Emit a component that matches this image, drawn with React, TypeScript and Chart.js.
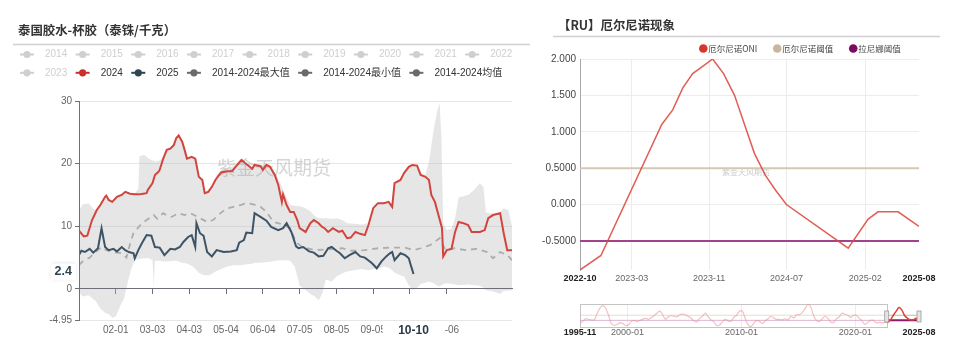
import React, { useEffect, useRef } from 'react';
import { Chart, registerables } from 'chart.js';

Chart.register(...registerables);

const LATIN = '"Liberation Sans", "Noto Sans CJK SC", sans-serif';
const CJK = '"Noto Sans CJK SC", "Liberation Sans", sans-serif';

/* ================= left panel: 泰国胶水-杯胶 ================= */
const LEFT_TITLE = '泰国胶水-杯胶（泰铢/千克）';
const WATERMARK = '紫金天风期货';
const HIDDEN_YEARS = ['2014', '2015', '2016', '2017', '2018', '2019', '2020', '2021', '2022', '2023'];
const LABEL_2024 = '2024';
const LABEL_2025 = '2025';
const LABEL_MAX = '2014-2024最大值';
const LABEL_MIN = '2014-2024最小值';
const LABEL_MEAN = '2014-2024均值';
const DAY_TICKS = [31, 62, 93, 124, 155, 186, 217, 248, 279, 310];
const DAY_TICK_LABELS = ['02-01', '03-03', '04-03', '05-04', '06-04', '07-05', '08-05', '09-05', '10-06', '11-06'];
const LAST_DAY_LABEL = '10-10';
const VALUE_TICKS = [30, 20, 10, 0, -4.95];

// [day of year (0 = 01-01), 泰铢/千克]
const Y2024: [number, number][] = [
  [0, 9.3], [4, 8.4], [7, 8.5], [11, 11.0], [15, 12.6], [18, 13.4], [22, 14.7], [23, 14.9], [25, 14.2],
  [28, 13.9], [32, 14.7], [36, 15.0], [39, 15.5], [43, 15.2], [47, 15.1], [51, 15.1], [54, 15.2], [57, 15.3],
  [58, 15.8], [62, 16.9], [64, 18.2], [67, 18.7], [68, 19.0], [71, 20.8], [74, 22.2], [77, 22.4], [80, 23.0],
  [82, 24.1], [84, 24.5], [87, 23.5], [89, 22.2], [91, 20.8], [95, 21.1], [98, 20.8], [101, 17.9], [104, 17.4],
  [106, 15.3], [109, 15.5], [112, 16.3], [115, 17.4], [118, 18.2], [120, 18.6], [125, 18.8], [129, 18.8],
  [132, 19.5], [137, 20.6], [140, 20.1], [146, 19.2], [148, 19.8], [153, 19.6], [155, 19.0], [158, 19.8],
  [161, 19.5], [165, 18.2], [168, 16.6], [171, 13.9], [172, 15.1], [175, 13.4], [178, 12.3], [181, 12.3],
  [184, 11.0], [186, 9.7], [191, 9.1], [195, 10.5], [198, 11.0], [202, 10.5], [205, 9.9], [207, 9.7],
  [210, 9.1], [214, 9.7], [219, 9.1], [222, 9.3], [226, 8.1], [229, 8.2], [233, 9.1], [237, 8.8], [241, 8.6],
  [244, 10.2], [248, 12.9], [252, 13.7], [257, 13.7], [261, 13.9], [264, 13.1], [266, 16.9], [271, 17.4],
  [274, 18.5], [278, 19.5], [281, 19.8], [285, 19.7], [288, 18.2], [292, 17.9], [295, 17.4], [297, 15.0],
  [300, 13.9], [303, 11.8], [306, 9.7], [307, 5.2], [310, 6.2], [314, 6.4], [317, 9.1], [320, 10.7],
  [324, 10.5], [328, 10.2], [331, 9.1], [338, 9.1], [342, 9.4], [345, 11.3], [349, 11.8], [355, 12.1],
  [358, 8.9], [361, 6.2], [365, 6.2],
];

const Y2025: [number, number][] = [
  [0, 5.4], [2, 6.1], [5, 5.9], [9, 6.4], [12, 5.8], [16, 6.5], [19, 9.7], [22, 6.7], [25, 6.2], [29, 6.4],
  [32, 6.0], [36, 6.7], [39, 6.2], [42, 5.9], [46, 5.7], [47, 4.9], [50, 6.2], [53, 7.3], [57, 8.6], [61, 8.5],
  [64, 6.7], [68, 6.6], [72, 5.4], [77, 6.4], [81, 6.3], [85, 6.7], [88, 7.5], [92, 8.3], [95, 8.6], [98, 6.7],
  [99, 10.5], [102, 8.9], [105, 8.5], [108, 5.9], [112, 5.2], [116, 6.2], [122, 5.9], [128, 6.0], [133, 6.2],
  [135, 7.4], [139, 7.8], [141, 9.0], [146, 8.9], [148, 12.1], [153, 11.5], [158, 10.9], [162, 9.9],
  [168, 9.4], [172, 9.7], [175, 10.5], [179, 9.1], [183, 6.8], [185, 6.5], [189, 6.7], [194, 6.0], [198, 5.8],
  [202, 5.2], [206, 5.3], [210, 6.5], [213, 6.7], [217, 6.1], [220, 5.7], [224, 4.9], [228, 5.4], [233, 5.9],
  [237, 5.2], [241, 5.0], [247, 4.1], [251, 3.3], [255, 4.4], [259, 5.2], [262, 5.7], [264, 5.9], [266, 4.6],
  [271, 5.7], [275, 5.4], [278, 4.9], [280, 3.6], [282, 2.4],
];

const MEAN: [number, number][] = [
  [0, 3.8], [4, 4.6], [9, 5.0], [14, 5.9], [19, 6.7], [23, 6.2], [29, 5.9], [36, 5.7], [40, 5.0], [42, 6.5],
  [46, 9.0], [49, 9.6], [53, 10.5], [57, 11.0], [63, 11.8], [66, 11.2], [71, 12.1], [75, 11.6], [78, 11.5],
  [84, 12.1], [89, 11.8], [94, 12.1], [100, 11.5], [108, 10.7], [113, 11.0], [118, 11.9], [124, 12.8],
  [130, 13.1], [136, 13.4], [141, 13.7], [147, 13.5], [153, 13.1], [158, 12.3], [164, 10.7], [170, 10.4],
  [178, 9.7], [183, 7.5], [188, 6.7], [199, 6.2], [210, 6.3], [222, 6.5], [230, 6.1], [241, 6.2], [252, 6.5],
  [262, 6.6], [275, 6.6], [282, 6.2], [288, 6.5], [296, 7.0], [304, 8.1], [309, 6.2], [316, 6.5], [326, 6.2],
  [335, 6.4], [344, 5.9], [349, 4.9], [355, 5.9], [361, 5.4], [365, 4.6],
];

// [day, 2014-2024 max, 2014-2024 min]
const RANGE: [number, number, number][] = [
  [0, 12.5, -0.5], [3, 13.5, -1.2], [8, 13.7, -1.0], [12, 12.8, -1.6], [14, 12.6, -1.9], [18, 13.4, -3.1],
  [22, 14.8, -3.8], [23, 15.0, -3.9], [25, 14.3, -4.0], [28, 14.0, -4.6], [31, 14.8, -4.4], [35, 15.1, -2.6],
  [38, 15.5, -1.5], [41, 15.3, 1.0], [44, 15.2, 3.2], [47, 15.2, 4.6], [50, 16.0, 4.8], [51, 21.2, 4.8],
  [55, 21.4, 4.9], [59, 20.8, 4.9], [62, 20.5, 4.6], [63, 20.5, 0.3], [64, 20.3, 4.5], [68, 20.5, 4.5],
  [71, 21.0, 4.4], [74, 22.3, 4.4], [80, 23.1, 4.5], [82, 24.2, 4.5], [84, 24.6, 4.4], [87, 23.6, 4.2],
  [90, 22.2, 4.1], [92, 21.0, 4.0], [96, 21.1, 3.6], [99, 20.8, 3.0], [101, 18.2, 2.6], [104, 17.4, 2.3],
  [106, 15.4, 2.2], [110, 16.0, 2.2], [115, 17.5, 2.8], [120, 19.0, 3.2], [125, 19.2, 3.6], [130, 19.6, 3.8],
  [136, 20.7, 3.8], [140, 20.1, 3.9], [145, 19.3, 4.0], [148, 20.0, 4.2], [153, 19.9, 4.2], [158, 19.8, 4.3],
  [162, 19.5, 4.4], [166, 18.3, 4.5], [170, 16.8, 4.6], [174, 15.0, 4.6], [178, 13.4, 4.5], [182, 13.3, 3.5],
  [186, 13.2, 0.5], [190, 13.0, 0.0], [195, 12.4, -0.8], [199, 11.6, -1.2], [202, 11.3, -1.8], [205, 11.3, -0.8],
  [208, 11.3, 1.5], [213, 11.2, 1.2], [217, 11.3, 2.0], [222, 11.0, 2.5], [226, 10.5, 2.8], [232, 10.4, 3.0],
  [238, 10.3, 3.2], [244, 10.5, 3.0], [248, 12.9, 3.2], [252, 13.7, 3.2], [257, 13.8, 3.6], [261, 13.9, 3.4],
  [264, 13.3, 3.0], [266, 17.0, 2.6], [271, 17.5, 2.2], [274, 18.5, 2.0], [278, 19.5, 0.6], [281, 19.9, -0.2],
  [285, 19.8, 0.2], [288, 18.4, 0.8], [292, 18.2, 1.0], [295, 20.3, 1.2], [299, 25.4, 0.9], [302, 28.5, 0.5],
  [304, 29.7, 0.4], [305.5, 24.0, 0.6], [307, 10.5, 0.8], [310, 9.4, 0.9], [314, 9.6, 0.8], [317, 11.3, 0.7],
  [320, 14.6, 0.6], [328, 15.0, 0.7], [333, 15.8, 0.6], [338, 16.9, 0.5], [341, 16.2, 0.2], [343, 12.2, -0.2],
  [349, 12.0, -0.4], [355, 12.3, -0.8], [358, 12.9, -0.3], [362, 12.6, -0.3], [365, 10.0, -0.2],
];

/* ================= right panel: 厄尔尼诺现象 ================= */
const RIGHT_TITLE = '【RU】厄尔尼诺现象';
const LABEL_ONI = '厄尔尼诺ONI';
const LABEL_EL_NINO = '厄尔尼诺阈值';
const LABEL_LA_NINA = '拉尼娜阈值';
const EL_NINO_THRESHOLD = 0.5;
const LA_NINA_THRESHOLD = -0.5;
// [months after 2022-10, ONI]
const ONI: [number, number][] = [
  [0, -0.9], [2.1, -0.7], [8.2, 1.1], [9.3, 1.3], [10.3, 1.6], [11.3, 1.8], [12.3, 1.9], [13.3, 2.0],
  [14.4, 1.8], [15.5, 1.5], [16.5, 1.1], [17.5, 0.7], [18.6, 0.4], [19.6, 0.2], [20.7, 0.0], [26.9, -0.6],
  [28.9, -0.2], [29.9, -0.1], [31.9, -0.1], [34, -0.3],
];
const ONI_X_TICKS = [0, 5.2, 12.95, 20.7, 28.6, 34];
const ONI_X_LABELS = ['2022-10', '2023-03', '2023-11', '2024-07', '2025-02', '2025-08'];
const ONI_Y_TICKS = [2, 1.5, 1, 0.5, 0, -0.5];
const ONI_Y_LABELS = ['2.000', '1.500', '1.000', '0.5000', '0.000', '-0.5000'];

// full ONI history for the zoom slider, one value every 3 months from 1995-11
const HISTORY_START = '1995-11';
const HISTORY_STEP = 3;
const ONI_HISTORY = [
  -1.0,
  -0.7, -0.2, -0.3, -0.4, -0.4, 0.8, 1.9, 2.4, 1.9, 0.5, -1.1, -1.5, -1.3, -1.0, -1.1, -1.5,
  -1.4, -0.7, -0.5, -0.7, -0.5, -0.3, -0.1, -0.3, 0.0, 0.4, 0.9, 1.3, 0.6, -0.3, 0.2, 0.4,
  0.3, 0.2, 0.6, 0.7, 0.6, 0.3, -0.1, -0.6, -0.8, -0.1, 0.3, 0.9, 0.2, -0.4, -0.8, -1.5,
  -1.4, -0.8, -0.3, -0.6, -0.7, 0.1, 0.5, 1.3, 1.3, -0.1, -1.4, -1.7, -1.1, -0.5, -0.7, -1.1,
  -0.6, -0.2, 0.3, 0.0, -0.3, -0.3, -0.4, -0.2, -0.4, 0.3, 0.0, 0.6, 0.6, 1.0, 1.8, 2.6,
  2.1, 0.4, -0.5, -0.7, -0.2, 0.3, -0.1, -0.8, -0.9, -0.2, 0.2, 0.9, 0.7, 0.5, 0.1, 0.5,
  0.5, -0.1, -0.6, -1.3, -0.9, -0.5, -0.5, -1.0, -0.9, -1.0, -0.9, -0.9, -0.4, 0.5, 1.3, 2.0,
  1.5, 0.4, -0.1, -0.4, -0.4, -0.1, -0.3,
];
const SLIDER_LABELS = ['1995-11', '2000-01', '2010-01', '2020-01', '2025-08'];
const SLIDER_WINDOW = ['2022-10', '2025-08'];

/* ================= helpers ================= */
const monthsBetween = (a: string, b: string) => {
  const [ya, ma] = a.split('-').map(Number);
  const [yb, mb] = b.split('-').map(Number);
  return (yb - ya) * 12 + (mb - ma);
};
const xy = (pts: [number, number][]) => pts.map(([x, y]) => ({ x, y }));

const C2024 = '#d2453f';
const C2024_LEGEND = '#c8302c';
const C2025 = '#3e5466';
const C2025_LEGEND = '#2f4554';
const CGREY = '#6a6a6a';

/* ---------- left chart plugins ---------- */
const leftDecor = {
  id: 'leftDecor',
  afterDatasetDraw(chart: any, args: any) {
    if (chart.data.datasets[args.index].label !== LABEL_MAX) return;
    const { ctx } = chart;
    ctx.save();
    ctx.font = `19px ${CJK}`;
    ctx.fillStyle = 'rgba(160,160,160,0.45)';
    ctx.textAlign = 'center';
    ctx.textBaseline = 'middle';
    ctx.fillText(WATERMARK, 274, 168);
    ctx.restore();
  },
  afterDraw(chart: any) {
    const { ctx, chartArea } = chart;
    ctx.save();
    ctx.textBaseline = 'middle';
    ctx.textAlign = 'left';
    ctx.font = `bold 12.4px ${CJK}`;
    ctx.fillStyle = '#333';
    ctx.fillText(LEFT_TITLE, 18, 30);
    ctx.strokeStyle = '#d0d0d0';
    ctx.lineWidth = 1.5;
    ctx.beginPath();
    ctx.moveTo(13, 44.5);
    ctx.lineTo(530, 44.5);
    ctx.stroke();

    // legend
    ctx.font = `10px ${LATIN}`;
    let x = 20;
    let y = 54.5;
    chart.data.datasets.forEach((ds: any) => {
      const w = ctx.measureText(ds.label).width;
      if (x + 25 + w > 528) {
        x = 20;
        y += 18.3;
      }
      const col = ds.hidden ? '#cfcfcf' : ds.legendColor;
      ctx.strokeStyle = col;
      ctx.lineWidth = 2;
      ctx.beginPath();
      ctx.moveTo(x, y);
      ctx.lineTo(x + 14, y);
      ctx.stroke();
      ctx.fillStyle = col;
      ctx.beginPath();
      ctx.arc(x + 7, y, 3.6, 0, Math.PI * 2);
      ctx.fill();
      ctx.fillStyle = ds.hidden ? '#cfcfcf' : '#333';
      ctx.fillText(ds.label, x + 25, y);
      x += 25 + w + 8.4;
    });

    // pointer labels for the latest 2025 value
    const last = Y2025[Y2025.length - 1];
    const px = chart.scales.x.getPixelForValue(last[0]);
    const py = chart.scales.y.getPixelForValue(last[1]);
    ctx.font = `bold 12.5px ${LATIN}`;
    const vText = String(last[1]);
    const vw = ctx.measureText(vText).width + 8;
    ctx.shadowColor = 'rgba(0,0,0,0.18)';
    ctx.shadowBlur = 3;
    ctx.fillStyle = '#fff';
    ctx.fillRect(chartArea.left - 3 - vw, py - 10.5, vw, 17);
    ctx.shadowBlur = 0;
    ctx.shadowColor = 'transparent';
    ctx.fillStyle = C2025_LEGEND;
    ctx.textAlign = 'center';
    ctx.fillText(vText, chartArea.left - 3 - vw / 2, py - 2);

    ctx.font = `bold 12px ${LATIN}`;
    const dw = ctx.measureText(LAST_DAY_LABEL).width + 31;
    ctx.fillStyle = '#fff';
    ctx.fillRect(px - dw / 2, chartArea.bottom + 2, dw, 18);
    ctx.fillStyle = '#2b3a4a';
    ctx.fillText(LAST_DAY_LABEL, px, chartArea.bottom + 10.5);
    ctx.restore();
  },
};

/* ---------- right chart plugins ---------- */
const rightDecor = {
  id: 'rightDecor',
  beforeDatasetsDraw(chart: any) {
    const { ctx } = chart;
    ctx.save();
    ctx.font = `8px ${CJK}`;
    ctx.fillStyle = 'rgba(140,140,140,0.45)';
    ctx.textAlign = 'center';
    ctx.textBaseline = 'middle';
    ctx.fillText(WATERMARK, 206, 172);
    ctx.restore();
  },
  afterDraw(chart: any) {
    const { ctx } = chart;
    ctx.save();
    ctx.textBaseline = 'middle';
    ctx.textAlign = 'left';
    ctx.font = `bold 12.4px ${CJK}`;
    ctx.fillStyle = '#333';
    ctx.fillText(RIGHT_TITLE, 18, 25.5);
    ctx.strokeStyle = '#d0d0d0';
    ctx.lineWidth = 1.5;
    ctx.beginPath();
    ctx.moveTo(13, 36.5);
    ctx.lineTo(400, 36.5);
    ctx.stroke();

    ctx.font = `8.5px ${CJK}`;
    let cx = 163.3;
    const cy = 48.5;
    chart.data.datasets.forEach((ds: any) => {
      ctx.fillStyle = ds.legendColor;
      ctx.beginPath();
      ctx.arc(cx, cy, 4.3, 0, Math.PI * 2);
      ctx.fill();
      ctx.fillStyle = '#444';
      ctx.fillText(ds.label, cx + 5, cy);
      cx += 5 + ctx.measureText(ds.label).width + 20;
    });
    ctx.restore();
  },
};

/* ---------- slider plugin ---------- */
const WIN_START = monthsBetween(HISTORY_START, SLIDER_WINDOW[0]);
const WIN_END = monthsBetween(HISTORY_START, SLIDER_WINDOW[1]);
const sliderDecor = {
  id: 'sliderDecor',
  beforeDatasetsDraw(chart: any) {
    const { ctx, chartArea: a, scales } = chart;
    const x0 = Math.round(scales.x.getPixelForValue(0)) + 0.5;
    const x1 = Math.round(scales.x.getPixelForValue(WIN_START)) + 0.5;
    ctx.save();
    ctx.strokeStyle = '#c4c4c4';
    ctx.lineWidth = 1;
    ctx.strokeRect(x0, Math.round(a.top) + 0.5, x1 - x0, Math.round(a.bottom - a.top));
    ctx.restore();
  },
  afterDatasetsDraw(chart: any) {
    const { ctx, chartArea: a, scales } = chart;
    const mid = (a.top + a.bottom) / 2 + 1;
    ctx.save();
    [WIN_START, WIN_END].forEach((m) => {
      const px = scales.x.getPixelForValue(m);
      ctx.fillStyle = '#e4e4e4';
      ctx.strokeStyle = '#9a9a9a';
      ctx.lineWidth = 0.8;
      ctx.fillRect(px - 2, mid - 5.5, 4, 11);
      ctx.strokeRect(px - 2, mid - 5.5, 4, 11);
    });
    ctx.restore();
  },
};

/* ================= chart configs ================= */
function leftConfig(): any {
  const datasets: any[] = [
    ...HIDDEN_YEARS.map((y) => ({ label: y, data: [], hidden: true, pointRadius: 0, legendColor: '#ccc' })),
    { label: LABEL_2024, data: xy(Y2024), borderColor: C2024, borderWidth: 2, pointRadius: 0, order: 1, legendColor: C2024_LEGEND },
    { label: LABEL_2025, data: xy(Y2025), borderColor: C2025, borderWidth: 2, pointRadius: 0, order: 0, legendColor: C2025_LEGEND },
    {
      label: LABEL_MAX, data: RANGE.map(([d, mx]) => ({ x: d, y: mx })), borderWidth: 0, borderColor: 'transparent',
      backgroundColor: 'rgba(185,185,185,0.36)', fill: '+1', pointRadius: 0, order: 3, legendColor: CGREY,
    },
    {
      label: LABEL_MIN, data: RANGE.map(([d, , mn]) => ({ x: d, y: mn })), borderWidth: 0, borderColor: 'transparent',
      fill: false, pointRadius: 0, order: 4, legendColor: CGREY,
    },
    {
      label: LABEL_MEAN, data: xy(MEAN), borderColor: '#adadad', borderWidth: 1.8, borderDash: [6, 5], pointRadius: 0,
      order: 2, legendColor: CGREY,
    },
  ];
  const dayTicks = (s: any) => { s.ticks = DAY_TICKS.map((v) => ({ value: v })); };
  return {
    type: 'line',
    data: { datasets },
    options: {
      animation: false, responsive: false, maintainAspectRatio: false, devicePixelRatio: 1,
      layout: { padding: { left: 0, top: 101, right: 23, bottom: 0 } },
      plugins: { legend: { display: false }, tooltip: { enabled: false } },
      elements: { line: { tension: 0 } },
      scales: {
        x: {
          type: 'linear', min: 0, max: 365,
          afterBuildTicks: dayTicks,
          afterFit: (s: any) => { s.height = 34; },
          grid: { display: false, drawTicks: false, tickLength: 0 }, border: { display: false },
          ticks: {
            autoSkip: false, maxRotation: 0, padding: 4, color: '#666', font: { family: LATIN, size: 10 },
            callback: (_v: any, i: number) => DAY_TICK_LABELS[i],
          },
        },
        x2: {
          type: 'linear', axis: 'x', position: { y: 0 }, min: 0, max: 365, z: 1,
          afterBuildTicks: dayTicks,
          ticks: { display: false },
          grid: { drawOnChartArea: false, drawTicks: true, tickLength: 5, tickColor: '#6e7079' },
          border: { display: true, color: '#6e7079', width: 1, z: 1 },
        },
        y: {
          type: 'linear', min: -4.95, max: 30,
          afterBuildTicks: (s: any) => { s.ticks = VALUE_TICKS.map((v) => ({ value: v })); },
          afterFit: (s: any) => { s.width = 79; },
          grid: {
            color: (c: any) => (c.tick && c.tick.value === 0 ? 'rgba(0,0,0,0)' : '#e6e6e6'),
            drawTicks: true, tickLength: 4, tickColor: '#6e7079',
          },
          border: { display: true, color: '#6e7079', width: 1, z: 1 },
          ticks: { padding: 3, color: '#666', font: { family: LATIN, size: 10 }, callback: (v: any) => String(v) },
        },
      },
    },
    plugins: [leftDecor],
  };
}

function rightConfig(): any {
  const datasets: any[] = [
    { label: LABEL_ONI, data: xy(ONI), borderColor: 'rgba(220,72,62,0.88)', borderWidth: 1.5, pointRadius: 0, order: 0, legendColor: '#d7372b' },
    {
      label: LABEL_EL_NINO, data: [{ x: 0, y: EL_NINO_THRESHOLD }, { x: ONI_X_TICKS[ONI_X_TICKS.length - 1], y: EL_NINO_THRESHOLD }],
      borderColor: '#d5c8b3', borderWidth: 2, pointRadius: 0, order: 1, legendColor: '#c9b69d',
    },
    {
      label: LABEL_LA_NINA, data: [{ x: 0, y: LA_NINA_THRESHOLD }, { x: ONI_X_TICKS[ONI_X_TICKS.length - 1], y: LA_NINA_THRESHOLD }],
      borderColor: '#a2428f', borderWidth: 2, pointRadius: 0, order: 1, legendColor: '#7d0a5d',
    },
  ];
  const lastIdx = ONI_X_TICKS.length - 1;
  return {
    type: 'line',
    data: { datasets },
    options: {
      animation: false, responsive: false, maintainAspectRatio: false, devicePixelRatio: 1,
      layout: { padding: { left: 0, top: 59, right: 41, bottom: 0 } },
      plugins: { legend: { display: false }, tooltip: { enabled: false } },
      scales: {
        x: {
          type: 'linear', min: 0, max: ONI_X_TICKS[lastIdx],
          afterBuildTicks: (s: any) => { s.ticks = ONI_X_TICKS.map((v) => ({ value: v })); },
          afterFit: (s: any) => { s.height = 22; },
          grid: {
            drawTicks: false,
            color: (c: any) => (c.index === 0 || c.index === lastIdx ? 'rgba(0,0,0,0)' : '#ececec'),
          },
          border: { display: false },
          ticks: {
            autoSkip: false, maxRotation: 0, padding: 3,
            color: (c: any) => (c.index === 0 || c.index === lastIdx ? '#222' : '#666'),
            font: (c: any) => ({ family: LATIN, size: 9, weight: c.index === 0 || c.index === lastIdx ? 'bold' : 'normal' }),
            callback: (_v: any, i: number) => ONI_X_LABELS[i],
          },
        },
        y: {
          type: 'linear', min: -0.9, max: 2,
          afterBuildTicks: (s: any) => { s.ticks = ONI_Y_TICKS.map((v) => ({ value: v })); },
          afterFit: (s: any) => { s.width = 40; },
          grid: { drawTicks: false, color: '#ececec' },
          border: { display: true, color: '#a8a8a8', width: 1 },
          ticks: {
            padding: 4, color: '#444', font: { family: LATIN, size: 10 },
            callback: (_v: any, i: number) => ONI_Y_LABELS[i],
          },
        },
      },
    },
    plugins: [rightDecor],
  };
}

function sliderConfig(): any {
  const hist = ONI_HISTORY.map((v, i) => ({ x: i * HISTORY_STEP, y: v }));
  const tickVals = SLIDER_LABELS.map((l) => monthsBetween(HISTORY_START, l));
  const lastIdx = tickVals.length - 1;
  const inWin = (c: any) => c.p0.parsed.x >= WIN_START;
  const flat = (v: number) => [{ x: 0, y: v }, { x: WIN_START, y: v }, { x: WIN_END, y: v }];
  return {
    type: 'line',
    data: {
      datasets: [
        {
          label: LABEL_ONI, data: hist, borderWidth: 1.2, pointRadius: 0, tension: 0.35, order: 0,
          borderColor: 'rgba(232,140,140,0.55)',
          segment: { borderColor: (c: any) => (inWin(c) ? '#dd3f36' : 'rgba(232,140,140,0.55)'), borderWidth: (c: any) => (inWin(c) ? 1.5 : 1.2) },
        },
        {
          label: LABEL_EL_NINO, data: flat(EL_NINO_THRESHOLD), borderWidth: 1, pointRadius: 0, order: 1,
          borderColor: 'rgba(200,180,154,0.45)',
          segment: { borderColor: (c: any) => (inWin(c) ? '#c8b59c' : 'rgba(200,180,154,0.45)') },
        },
        {
          label: LABEL_LA_NINA, data: flat(LA_NINA_THRESHOLD), borderWidth: 1, pointRadius: 0, order: 1,
          borderColor: 'rgba(170,70,150,0.4)',
          segment: { borderColor: (c: any) => (inWin(c) ? '#8a1a70' : 'rgba(170,70,150,0.4)'), borderWidth: (c: any) => (inWin(c) ? 2 : 1) },
        },
      ],
    },
    options: {
      animation: false, responsive: false, maintainAspectRatio: false, devicePixelRatio: 1,
      layout: { padding: { left: 40, top: 12, right: 41, bottom: 0 } },
      plugins: { legend: { display: false }, tooltip: { enabled: false } },
      scales: {
        x: {
          type: 'linear', min: 0, max: WIN_END,
          afterBuildTicks: (s: any) => { s.ticks = tickVals.map((v) => ({ value: v })); },
          afterFit: (s: any) => { s.height = 27; },
          grid: {
            drawTicks: false,
            color: (c: any) => (c.index === 0 || c.index === lastIdx ? 'rgba(0,0,0,0)' : 'rgba(0,0,0,0.07)'),
          },
          border: { display: false },
          ticks: {
            autoSkip: false, maxRotation: 0, padding: 0,
            color: (c: any) => (c.index === 0 || c.index === lastIdx ? '#222' : '#666'),
            font: (c: any) => ({ family: LATIN, size: 9, weight: c.index === 0 || c.index === lastIdx ? 'bold' : 'normal' }),
            callback: (_v: any, i: number) => SLIDER_LABELS[i],
          },
        },
        y: { display: false, min: -1.8, max: 2.7 },
      },
    },
    plugins: [sliderDecor],
  };
}

export default function App() {
  const leftRef = useRef<HTMLCanvasElement>(null);
  const rightRef = useRef<HTMLCanvasElement>(null);
  const sliderRef = useRef<HTMLCanvasElement>(null);

  useEffect(() => {
    Chart.defaults.font.family = LATIN;
    const charts = [
      new Chart(leftRef.current as HTMLCanvasElement, leftConfig()),
      new Chart(rightRef.current as HTMLCanvasElement, rightConfig()),
      new Chart(sliderRef.current as HTMLCanvasElement, sliderConfig()),
    ];
    return () => charts.forEach((c) => c.destroy());
  }, []);

  return (
    <div style={{ position: 'fixed', left: 0, top: 0, width: 960, height: 354, background: '#fff', overflow: 'hidden' }}>
      <canvas ref={leftRef} width={535} height={354} style={{ position: 'absolute', left: 0, top: 0, width: 535, height: 354 }} />
      <canvas ref={rightRef} width={420} height={292} style={{ position: 'absolute', left: 540, top: 0, width: 420, height: 292 }} />
      <canvas ref={sliderRef} width={420} height={62} style={{ position: 'absolute', left: 540, top: 292, width: 420, height: 62 }} />
    </div>
  );
}
